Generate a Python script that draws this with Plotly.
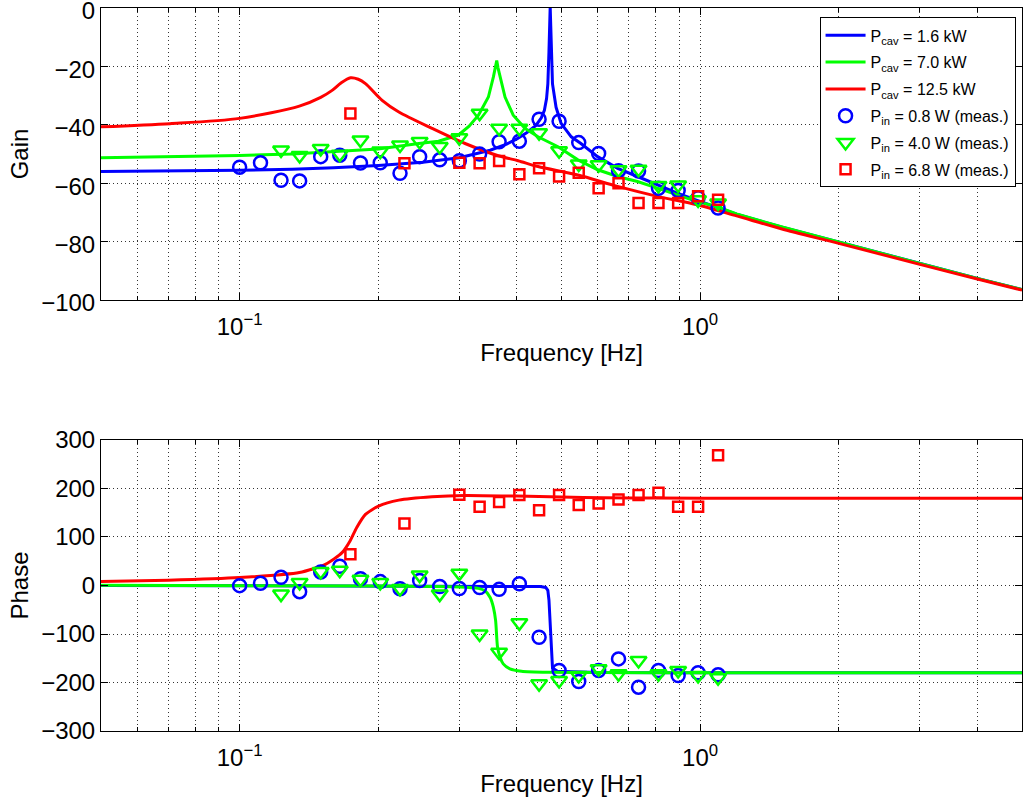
import plotly.graph_objects as go

# ---------------- measured points ----------------
FREQ_BLUE_MEAS = [0.100, 0.111, 0.123, 0.135, 0.150, 0.165, 0.183, 0.202, 0.223, 0.246,
                  0.272, 0.300, 0.332, 0.366, 0.405, 0.447, 0.494, 0.545, 0.602, 0.665,
                  0.735, 0.812, 0.896, 0.990, 1.094]
GAIN_BLUE_MEAS = [-54.5, -53.0, -59.0, -59.2, -50.9, -50.4, -53.1, -53.0, -56.6, -50.9,
                  -52.0, -52.3, -50.0, -45.8, -45.6, -38.1, -38.8, -46.1, -49.8, -55.7,
                  -55.8, -61.7, -62.5, -65.0, -68.5]
PHASE_BLUE_MEAS = [-0.3, 4.8, 17.0, -12.7, 27.7, 39.7, 14.0, 8.0, -6.5, 10.3,
                   -2.0, -6.2, -4.1, -8.0, 3.5, -106.8, -175.3, -197.9, -175.3, -151.3,
                   -209.6, -175.3, -185.5, -180.0, -184.2]

FREQ_GREEN_MEAS = [0.123, 0.135, 0.150, 0.165, 0.183, 0.202, 0.223, 0.246,
                   0.272, 0.300, 0.332, 0.366, 0.405, 0.447, 0.494, 0.545, 0.602, 0.665,
                   0.735, 0.812, 0.896, 0.990, 1.094]
GAIN_GREEN_MEAS = [-48.6, -50.5, -48.1, -50.1, -45.2, -49.0, -46.9, -45.7,
                   -47.4, -44.4, -36.0, -41.2, -41.2, -42.7, -48.9, -53.4, -53.7, -55.4,
                   -55.2, -60.8, -60.6, -65.7, -66.8]
PHASE_GREEN_MEAS = [-17.7, 6.2, 28.8, 31.6, 13.1, 6.2, -6.2, 21.4,
                    -17.7, 25.5, -100.0, -137.6, -77.0, -202.6, -195.8, -185.5, -171.8, -182.0,
                    -154.7, -182.0, -175.3, -185.5, -190.3]

FREQ_RED_MEAS = [0.174, 0.228, 0.300, 0.332, 0.366, 0.405, 0.447, 0.494,
                 0.545, 0.602, 0.665, 0.735, 0.812, 0.896, 0.990, 1.094]
GAIN_RED_MEAS = [-36.1, -53.2, -53.0, -53.2, -52.4, -56.9, -54.9, -57.7,
                 -56.4, -61.7, -60.0, -66.8, -66.8, -66.8, -64.5, -65.7]
PHASE_RED_MEAS = [64.5, 128.0, 187.0, 162.4, 172.0, 186.4, 154.9, 186.4,
                  165.8, 169.3, 177.5, 186.4, 191.0, 162.4, 162.4, 268.5]

# ---------------- model curves ----------------
FREQ_BLUE_GAIN = [0.05, 0.07, 0.1, 0.13, 0.16, 0.2, 0.25, 0.3, 0.35, 0.38, 0.4, 0.42, 0.44,
                  0.452, 0.459, 0.464, 0.467, 0.4696, 0.4712, 0.4725, 0.4738, 0.4755, 0.478,
                  0.4866, 0.499, 0.525, 0.551, 0.599, 0.662, 0.731, 0.807, 0.892, 0.985,
                  1.088, 1.2, 1.5, 2.0, 3.0, 4.0, 5.0]
GAIN_BLUE = [-56.0, -55.9, -55.6, -55.2, -54.7, -53.9, -52.8, -51.3, -48.7, -46.6, -44.8, -42.7, -40.2,
             -37.6, -35.0, -31.0, -26.0, -15.0, -5.0, 0.5, -6.0, -17.0, -26.0,
             -34.0, -39.5, -44.1, -46.4, -50.9, -54.9, -57.7, -60.6, -63.4, -65.9,
             -68.2, -70.6, -75.0, -80.2, -87.5, -92.6, -96.4]

FREQ_GREEN_GAIN = [0.05, 0.07, 0.1, 0.13, 0.16, 0.2, 0.245, 0.2704, 0.2987, 0.315, 0.3301,
                   0.3469, 0.3557, 0.3595, 0.3617, 0.364, 0.3678, 0.377, 0.3928, 0.4164,
                   0.4446, 0.4914, 0.5427, 0.5993, 0.6619, 0.7311, 0.8075, 0.8919, 0.985,
                   1.088, 1.2, 1.5, 2.0, 3.0, 4.0, 5.0]
GAIN_GREEN = [-51.3, -51.0, -50.5, -50.0, -49.3, -48.3, -46.4, -45.6, -43.5, -40.5, -36.7,
              -30.5, -23.6, -20.0, -18.0, -20.5, -23.6, -30.5, -36.7, -41.2,
              -44.1, -47.5, -52.0, -55.4, -57.7, -59.4, -61.7, -64.0, -66.3,
              -68.0, -70.5, -74.9, -80.2, -87.5, -92.6, -96.4]

FREQ_RED_GAIN = [0.05, 0.0706, 0.1, 0.1348, 0.15, 0.1588, 0.166, 0.1741, 0.181, 0.1876,
                 0.2039, 0.2217, 0.2617, 0.3087, 0.3645, 0.4025, 0.4446, 0.5427, 0.6619,
                 0.8075, 0.985, 1.2, 1.5, 2.0, 3.0, 4.0, 5.0]
GAIN_RED = [-40.7, -39.6, -37.8, -33.6, -30.6, -28.2, -25.7, -23.9, -24.4, -25.9,
            -31.6, -35.6, -41.2, -46.4, -50.6, -52.3, -54.3, -57.2, -61.1,
            -64.5, -67.4, -71.2, -75.6, -80.6, -87.8, -92.8, -96.6]

FREQ_BLUE_PHASE = [0.05, 0.2, 0.4, 0.45, 0.462, 0.467, 0.4696, 0.4712, 0.4725, 0.4738,
                   0.4755, 0.478, 0.49, 0.6, 1.0, 5.0]
PHASE_BLUE = [0.0, -0.3, -1.0, -2.0, -4.0, -10.0, -30.0, -60.0, -90.0, -120.0,
              -150.0, -170.0, -177.0, -179.3, -179.8, -180.0]

FREQ_GREEN_PHASE = [0.05, 0.2, 0.3, 0.33, 0.341, 0.35, 0.3557, 0.3597, 0.3631, 0.3678,
                    0.3736, 0.3863, 0.4093, 0.4675, 0.6, 1.0, 5.0]
PHASE_GREEN = [0.5, -1.0, -3.0, -6.0, -11.0, -24.6, -45.0, -72.5, -127.0, -148.0,
               -161.6, -171.8, -176.7, -179.0, -179.6, -180.0, -180.0]

FREQ_RED_PHASE = [0.05, 0.07, 0.1, 0.1348, 0.1539, 0.1669, 0.1737, 0.1795, 0.1876, 0.2003,
                  0.2217, 0.2617, 0.3087, 0.4, 0.5, 0.6196, 0.8, 1.3, 2.0, 5.0]
PHASE_RED = [8.2, 11.0, 16.4, 26.7, 44.0, 67.8, 91.8, 119.2, 146.7, 163.8,
             176.0, 182.9, 185.7, 184.3, 182.5, 180.8, 180.3, 179.8, 179.8, 179.8]

LINE_NAMES = ["P<sub>cav</sub> = 1.6 kW", "P<sub>cav</sub> = 7.0 kW", "P<sub>cav</sub> = 12.5 kW"]
MEAS_NAMES = ["P<sub>in</sub> = 0.8 W (meas.)", "P<sub>in</sub> = 4.0 W (meas.)",
              "P<sub>in</sub> = 6.8 W (meas.)"]

X_MAJOR = [0.1, 1.0]
X_MAJOR_TEXT = ["10<sup>\u22121</sup>", "10<sup>0</sup>"]
X_MINOR = [0.05, 0.06, 0.07, 0.08, 0.09, 0.2, 0.3, 0.4, 0.5, 0.6, 0.7, 0.8, 0.9,
           2.0, 3.0, 4.0, 5.0]

BLUE = "rgb(0,0,255)"
GREEN = "rgb(0,255,0)"
RED = "rgb(255,0,0)"
COLORS = [BLUE, GREEN, RED]
FONT = "Liberation Sans, Arial, Helvetica, sans-serif"

fig = go.Figure()

gain_lines = [(FREQ_BLUE_GAIN, GAIN_BLUE, "linear"), (FREQ_GREEN_GAIN, GAIN_GREEN, "linear"),
              (FREQ_RED_GAIN, GAIN_RED, "spline")]
phase_lines = [(FREQ_BLUE_PHASE, PHASE_BLUE, "linear"), (FREQ_GREEN_PHASE, PHASE_GREEN, "spline"),
               (FREQ_RED_PHASE, PHASE_RED, "spline")]
meas = [(FREQ_BLUE_MEAS, GAIN_BLUE_MEAS, PHASE_BLUE_MEAS, "circle-open", 13),
        (FREQ_GREEN_MEAS, GAIN_GREEN_MEAS, PHASE_GREEN_MEAS, "triangle-down-open", 14),
        (FREQ_RED_MEAS, GAIN_RED_MEAS, PHASE_RED_MEAS, "square-open", 10)]

for i, (fx, fy, shp) in enumerate(gain_lines):
    fig.add_trace(go.Scatter(x=fx, y=fy, mode="lines", name=LINE_NAMES[i],
                             legendgroup="l%d" % i, legendrank=i,
                             line=dict(color=COLORS[i], width=3, shape=shp, smoothing=0.8),
                             xaxis="x", yaxis="y"))
for i, (fx, fy, shp) in enumerate(phase_lines):
    fig.add_trace(go.Scatter(x=fx, y=fy, mode="lines", showlegend=False,
                             line=dict(color=COLORS[i], width=3, shape=shp, smoothing=0.6),
                             xaxis="x2", yaxis="y2"))
for i, (fx, g, p, sym, sz) in enumerate(meas):
    mk = dict(symbol=sym, size=sz, color=COLORS[i], line=dict(color=COLORS[i], width=2.5))
    fig.add_trace(go.Scatter(x=fx, y=g, mode="markers", name=MEAS_NAMES[i], marker=mk,
                             legendgroup="m%d" % i, legendrank=3 + i,
                             xaxis="x", yaxis="y"))
    fig.add_trace(go.Scatter(x=fx, y=p, mode="markers", showlegend=False, marker=mk,
                             xaxis="x2", yaxis="y2"))

GRID_COLOR = "rgba(30,30,30,0.9)"
GRID_DASH = "1px,3px"


def xax(anchor):
    return dict(type="log", range=[-1.30103, 0.69897], anchor=anchor, automargin=False,
                tickmode="array", tickvals=X_MAJOR, ticktext=X_MAJOR_TEXT,
                ticks="inside", ticklen=7, tickwidth=1, tickcolor="black",
                showline=True, linecolor="black", linewidth=1, mirror="ticks",
                zeroline=False, showgrid=True, gridcolor=GRID_COLOR, gridwidth=1,
                griddash=GRID_DASH, ticklabeloverflow="allow", ticklabelstandoff=5,
                minor=dict(tickmode="array", tickvals=X_MINOR, ticks="inside", ticklen=4,
                           tickcolor="black", showgrid=True,
                           gridcolor=GRID_COLOR, gridwidth=1, griddash=GRID_DASH),
                title=dict(text="Frequency [Hz]", font=dict(size=24, color="black"), standoff=5),
                tickfont=dict(size=24, color="black"))


def yax(domain, rng, dt, title, anchor, shift):
    return dict(domain=domain, range=rng, dtick=dt, tick0=0, anchor=anchor, automargin=False,
                ticks="inside", ticklen=7, tickwidth=1, tickcolor="black",
                showline=True, linecolor="black", linewidth=1, mirror="ticks",
                zeroline=False, showgrid=True, gridcolor=GRID_COLOR, gridwidth=1,
                griddash=GRID_DASH, ticklabeloverflow="allow", ticklabelshift=shift,
                title=dict(text=title, font=dict(size=24, color="black"), standoff=5),
                tickfont=dict(size=24, color="black"))


fig.update_layout(
    width=1023, height=804,
    autosize=False,
    margin=dict(l=101, r=1, t=8, b=73),
    paper_bgcolor="white", plot_bgcolor="white",
    font=dict(family=FONT, color="black"),
    xaxis=xax("y"),
    yaxis=yax([0.5961, 1.0], [-100, 0], 20, "Gain", "x", 3),
    xaxis2=xax("y2"),
    yaxis2=yax([0.0, 0.4025], [-300, 300], 100, "Phase", "x2", 0),
    legend=dict(x=0.993, y=0.987, xref="paper", yref="paper", xanchor="right", yanchor="top",
                bgcolor="white", bordercolor="black", borderwidth=1,
                font=dict(size=16, color="black", family=FONT),
                tracegroupgap=3, itemwidth=40, traceorder="grouped"),
    showlegend=True,
)

POST = ("document.body.style.margin='0';document.body.style.padding='0';"
        "document.body.style.overflow='hidden';"
        "var gd=document.getElementById('{plot_id}');"
        "gd.style.margin='0';"
        "Plotly.relayout(gd,{width:1023,height:804});")

fig.write_html("out.html", config={"responsive": False, "displayModeBar": False},
               post_script=POST)
